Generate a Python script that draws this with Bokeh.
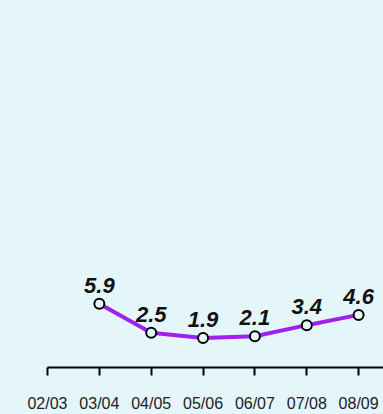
from bokeh.plotting import figure
from bokeh.models import ColumnDataSource, Range1d, FixedTicker
from bokeh.core.properties import value
from bokeh.embed import file_html
from bokeh.resources import INLINE

categories = ["02/03", "03/04", "04/05", "05/06", "06/07", "07/08", "08/09"]
point_categories = ["03/04", "04/05", "05/06", "06/07", "07/08", "08/09"]
values = [5.9, 2.5, 1.9, 2.1, 3.4, 4.6]
labels = ["5.9", "2.5", "1.9", "2.1", "3.4", "4.6"]

BG = "#e4f6fa"

xs = [categories.index(c) for c in point_categories]
src = ColumnDataSource(dict(x=xs, y=values, label=labels))

p = figure(width=383, height=414, output_backend="svg", toolbar_location=None,
           x_range=Range1d(0, 6.48), y_range=Range1d(-1.55, 41.36),
           y_axis_location=None, min_border_left=47, min_border_right=0,
           min_border_top=0, min_border_bottom=45)
p.background_fill_color = BG
p.border_fill_color = BG
p.outline_line_color = None
p.xgrid.visible = False
p.ygrid.visible = False

ax = p.xaxis[0]
ax.ticker = FixedTicker(ticks=list(range(len(categories))))
ax.major_label_overrides = {i: c for i, c in enumerate(categories)}
ax.axis_line_color = "black"
ax.axis_line_width = 2
ax.major_tick_line_color = "black"
ax.major_tick_line_width = 2
ax.major_tick_out = 8
ax.major_tick_in = 0
ax.minor_tick_line_color = None
ax.major_label_standoff = 19
ax.major_label_text_font = "Liberation Sans"
ax.major_label_text_font_size = "16px"
ax.major_label_text_color = "#222222"

p.line("x", "y", source=src, line_color="#A020F0", line_width=4)
p.scatter("x", "y", source=src, size=10, marker="circle",
          fill_color=BG, line_color="black", line_width=2)
p.text("x", "y", text="label", source=src, y_offset=-11,
       text_align="center", text_baseline="bottom",
       text_font=value("Liberation Sans"), text_font_style="bold italic",
       text_font_size="22px", text_color="#111111")

html = file_html(p, INLINE)
html = html.replace("</head>", "<style>html,body{background:%s;}</style></head>" % BG, 1)
open("out.html", "w").write(html)
